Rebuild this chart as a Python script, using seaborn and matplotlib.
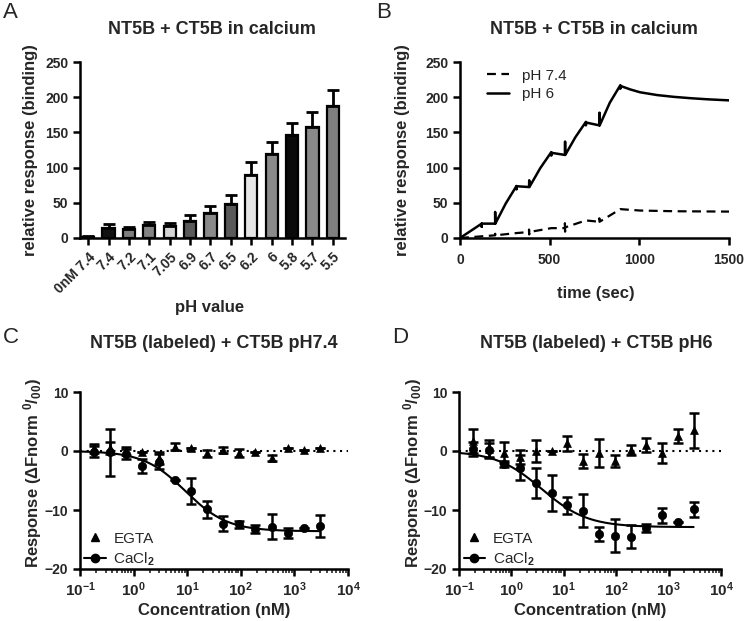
import numpy as np
import pandas as pd
import matplotlib
matplotlib.use("Agg")
import matplotlib.pyplot as plt
import seaborn as sns
from matplotlib.lines import Line2D
from matplotlib.ticker import LogLocator, FuncFormatter, NullFormatter

# ---------------- data ----------------
# Panel A
ph_labels = ["0nM 7.4", "7.4", "7.2", "7.1", "7.05", "6.9", "6.7", "6.5", "6.2", "6", "5.8", "5.7", "5.5"]
bar_values = [1.5, 14, 12.6, 18, 16.4, 24.3, 35, 47.8, 89.4, 119.4, 145.6, 158.2, 188.2]
bar_errors = [1.0, 5.6, 3.3, 5.0, 5.6, 8.4, 10.3, 13.6, 18.3, 16.9, 17.8, 21.0, 22.0]
bar_colors = ["#444444", "#111111", "#7f7f7f", "#838383", "#d4d4d4", "#595959", "#8a8a8a",
              "#595959", "#e6e6e6", "#8a8a8a", "#0a0a0a", "#8a8a8a", "#7f7f7f"]

# Panel B (sensorgram traces)
ph6_time = [0, 121, 121, 121, 196, 196, 197, 255, 315, 315, 316, 385, 386, 387, 447, 509, 509, 510,
            585, 586, 587, 643, 702, 702, 703, 777, 778, 779, 835, 894, 894, 895, 950, 1004, 1100,
            1192, 1290, 1381, 1500]
ph6_resp = [0, 20.4, 16, 20.4, 20.4, 37, 20.4, 49, 73.9, 69, 73.5, 72.4, 82, 72.4, 99, 122, 117, 121,
            118, 137, 118, 143, 165, 160, 164, 160, 178, 160, 192, 217, 212, 216, 211, 207, 203,
            200.5, 198.5, 197, 195.5]
ph74_time = [0, 121, 196, 196, 197, 315, 385, 385, 386, 386, 509, 585, 585, 586, 586, 702, 777, 777,
             778, 894, 1004, 1200, 1504]
ph74_resp = [0, 2.4, 3.8, 6, 3.8, 7, 8.5, 12, 5, 8.5, 14, 14, 21, 9, 15, 25, 23, 28, 23, 41, 39,
             38, 37.5]

# Panels C / D
conc = [0.183, 0.366, 0.73, 1.46, 2.93, 5.86, 11.7, 23.4, 46.9, 93.8, 188, 375, 750, 1500, 3000]

c_ca = [-0.1, -0.2, -0.5, -2.5, -1.8, -4.9, -6.7, -9.9, -12.3, -12.4, -13.2, -12.8, -13.9, -13.1, -12.7]
c_ca_err = [0.9, 4.0, 0.8, 1.2, 1.3, 0.0, 2.2, 1.4, 1.3, 0.6, 0.7, 2.1, 0.8, 0.0, 1.9]
c_egta = [0.45, 0.5, 0.0, -0.2, -1.2, 0.7, 0.45, -0.4, 0.15, -0.4, -0.2, -1.2, 0.45, 0.1, 0.5]
c_egta_err = [0.8, 1.0, 0.7, 0.0, 1.0, 0.6, 0.0, 0.6, 0.5, 0.7, 0.0, 0.5, 0.0, 0.0, 0.0]
c_fit_bottom, c_fit_ec50, c_fit_hill = -13.6, 9.25, 1.11

d_ca = [0.3, 0.2, -2.2, -2.8, -5.4, -7.1, -9.2, -10.1, -14.0, -14.4, -14.5, -13.1, -10.9, -12.0, -9.9]
d_ca_err = [1.2, 1.2, 0.5, 2.1, 2.5, 3.0, 1.4, 2.8, 1.2, 2.8, 2.0, 0.7, 1.3, 0.0, 1.3]
d_egta = [1.7, 0.3, -0.3, -1.0, 0.0, 0.0, 1.3, -1.7, -0.3, -1.7, 0.2, 1.0, -0.4, 2.5, 3.5]
d_egta_err = [2.1, 1.5, 1.8, 1.2, 1.8, 0.0, 1.3, 1.2, 2.4, 1.0, 0.9, 1.2, 1.7, 1.2, 3.0]
d_fit_bottom, d_fit_ec50, d_fit_hill = -12.9, 3.8, 1.0

# ---------------- style ----------------
sns.set_style("ticks")
plt.rcParams["font.family"] = ["Liberation Sans", "DejaVu Sans"]
plt.rcParams["font.weight"] = "bold"
plt.rcParams["axes.labelweight"] = "bold"
plt.rcParams["mathtext.fontset"] = "custom"
plt.rcParams["mathtext.rm"] = "Liberation Sans"
plt.rcParams["mathtext.bf"] = "Liberation Sans:bold"
plt.rcParams["mathtext.it"] = "Liberation Sans:bold"
plt.rcParams["mathtext.default"] = "bf"

W, H = 745, 621
fig = plt.figure(figsize=(W / 100, H / 100), dpi=100)


def px_axes(l, r, t, b):
    return fig.add_axes([l / W, 1 - b / H, (r - l) / W, (b - t) / H])


axA = px_axes(80, 345, 62, 238)
axB = px_axes(460, 729, 62, 238)
axC = px_axes(80, 348, 392, 569)
axD = px_axes(459, 721, 392, 569)

TICK_FS = 10
LABEL_FS = 12
TITLE_FS = 13


def style_axes(ax):
    sns.despine(ax=ax)
    for s in ("left", "bottom"):
        ax.spines[s].set_linewidth(1.8)
        ax.spines[s].set_color("black")
    ax.tick_params(axis="both", which="major", direction="out", length=5, width=1.8,
                   labelsize=TICK_FS, color="black")
    for lab in ax.get_xticklabels() + ax.get_yticklabels():
        lab.set_fontweight("bold")


# ---------------- Panel A ----------------
dfA = pd.DataFrame({"pH": ph_labels, "resp": bar_values})
sns.barplot(data=dfA, x="pH", y="resp", hue="pH", palette=bar_colors, legend=False,
            width=0.6, edgecolor="black", linewidth=1.6, saturation=1, ax=axA, errorbar=None)
xpos = np.arange(len(ph_labels))
axA.errorbar(xpos, bar_values, yerr=[np.zeros(len(bar_values)), bar_errors], fmt="none",
             ecolor="black", elinewidth=2, capsize=4.5, capthick=2, zorder=1)
axA.set_xlim(-0.4, len(ph_labels) - 0.4)
axA.set_ylim(0, 250)
axA.set_yticks([0, 50, 100, 150, 200, 250])
axA.set_xticks(xpos)
axA.set_xticklabels(ph_labels, rotation=45, ha="right", rotation_mode="anchor")
axA.set_xlabel("pH value", fontsize=LABEL_FS)
axA.set_ylabel("relative response (binding)", fontsize=LABEL_FS)
style_axes(axA)
axA.xaxis.set_label_coords(0.49, -0.35)
axA.yaxis.set_label_coords(-0.16, 0.5)

# ---------------- Panel B ----------------
sns.lineplot(x=ph74_time, y=ph74_resp, estimator=None, sort=False, color="black", lw=1.6,
             linestyle=(0, (4, 2.5)), ax=axB, label="pH 7.4")
sns.lineplot(x=ph6_time, y=ph6_resp, estimator=None, sort=False, color="black", lw=1.8,
             ax=axB, label="pH 6")
axB.set_xlim(0, 1500)
axB.set_ylim(0, 250)
axB.set_xticks([0, 500, 1000, 1500])
axB.set_yticks([0, 50, 100, 150, 200, 250])
axB.set_xlabel("time (sec)", fontsize=LABEL_FS)
axB.set_ylabel("relative response (binding)", fontsize=LABEL_FS)
style_axes(axB)
axB.tick_params(axis="x", pad=6)
axB.xaxis.set_label_coords(0.505, -0.275)
axB.yaxis.set_label_coords(-0.185, 0.5)
legB = axB.legend(loc="upper left", frameon=False, fontsize=11, handlelength=1.4,
                  handletextpad=0.9, bbox_to_anchor=(0.05, 1.04), labelspacing=0.3)
for t in legB.get_texts():
    t.set_fontweight("normal")


# ---------------- Panels C / D ----------------
def binding_panel(ax, ca, ca_err, egta, egta_err, bottom, ec50, hill):
    ax.set_xscale("log")
    ax.axhline(0, color="black", ls=(0, (1, 2.2)), lw=1.5, zorder=1)
    xfit = np.logspace(-1, np.log10(conc[-1]), 300)
    yfit = bottom / (1 + (ec50 / xfit) ** hill)
    sns.lineplot(x=xfit, y=yfit, color="black", lw=1.5, ax=ax, estimator=None, sort=False)
    ax.errorbar(conc, egta, yerr=egta_err, fmt="none", ecolor="black", elinewidth=1.8,
                capsize=3.5, capthick=1.8, zorder=2)
    ax.errorbar(conc, ca, yerr=ca_err, fmt="none", ecolor="black", elinewidth=1.8,
                capsize=3.5, capthick=1.8, zorder=2)
    sns.scatterplot(x=conc, y=egta, marker="^", s=32, color="black", edgecolor="black",
                    linewidth=0.5, ax=ax, zorder=3)
    sns.scatterplot(x=conc, y=ca, marker="o", s=36, color="black", edgecolor="black",
                    linewidth=0.5, ax=ax, zorder=3)
    ax.set_xlim(0.1, 1e4)
    ax.set_ylim(-20, 10)
    ax.set_yticks([-20, -10, 0, 10])
    ax.xaxis.set_major_locator(LogLocator(base=10, numticks=10))
    ax.xaxis.set_minor_locator(LogLocator(base=10, subs=np.arange(2, 10), numticks=20))
    ax.xaxis.set_major_formatter(FuncFormatter(lambda v, p: r"$\mathbf{10^{%d}}$" % round(np.log10(v))))
    ax.xaxis.set_minor_formatter(NullFormatter())
    ax.set_xlabel("Concentration (nM)", fontsize=LABEL_FS)
    ax.set_ylabel(r"Response (ΔFnorm $^{0}/_{00}$)", fontsize=LABEL_FS)
    style_axes(ax)
    ax.tick_params(axis="x", which="minor", direction="out", length=3, width=1.2)
    ax.tick_params(axis="x", which="major", pad=3, labelsize=11)
    ax.xaxis.set_label_coords(0.5, -0.19)
    ax.yaxis.set_label_coords(-0.135, 0.54)
    handles = [Line2D([], [], color="black", marker="^", ls="none", markersize=5.5),
               Line2D([], [], color="black", marker="o", ls="-", lw=1.5, markersize=6)]
    leg = ax.legend(handles, ["EGTA", r"CaCl$_{\mathrm{2}}$"], loc="lower left", frameon=False,
                    fontsize=11, handlelength=1.4, handletextpad=0.5,
                    bbox_to_anchor=(-0.035, -0.07), labelspacing=0.3)
    for t in leg.get_texts():
        t.set_fontweight("normal")


binding_panel(axC, c_ca, c_ca_err, c_egta, c_egta_err, c_fit_bottom, c_fit_ec50, c_fit_hill)
binding_panel(axD, d_ca, d_ca_err, d_egta, d_egta_err, d_fit_bottom, d_fit_ec50, d_fit_hill)

# ---------------- titles & panel letters ----------------
fig.text(212 / W, 1 - 29 / H, "NT5B + CT5B in calcium", ha="center", va="center",
         fontsize=TITLE_FS, fontweight="bold")
fig.text(594 / W, 1 - 29 / H, "NT5B + CT5B in calcium", ha="center", va="center",
         fontsize=TITLE_FS, fontweight="bold")
fig.text(214 / W, 1 - 343 / H, "NT5B (labeled) + CT5B pH7.4", ha="center", va="center",
         fontsize=TITLE_FS, fontweight="bold")
fig.text(596 / W, 1 - 343 / H, "NT5B (labeled) + CT5B pH6", ha="center", va="center",
         fontsize=TITLE_FS, fontweight="bold")
for letter, x, y in [("A", 3, 2), ("B", 376, 2), ("C", 3, 327), ("D", 392, 327)]:
    fig.text(x / W, 1 - y / H, letter, ha="left", va="top", fontsize=16, fontweight="normal")

fig.savefig("out.png", dpi=100)
